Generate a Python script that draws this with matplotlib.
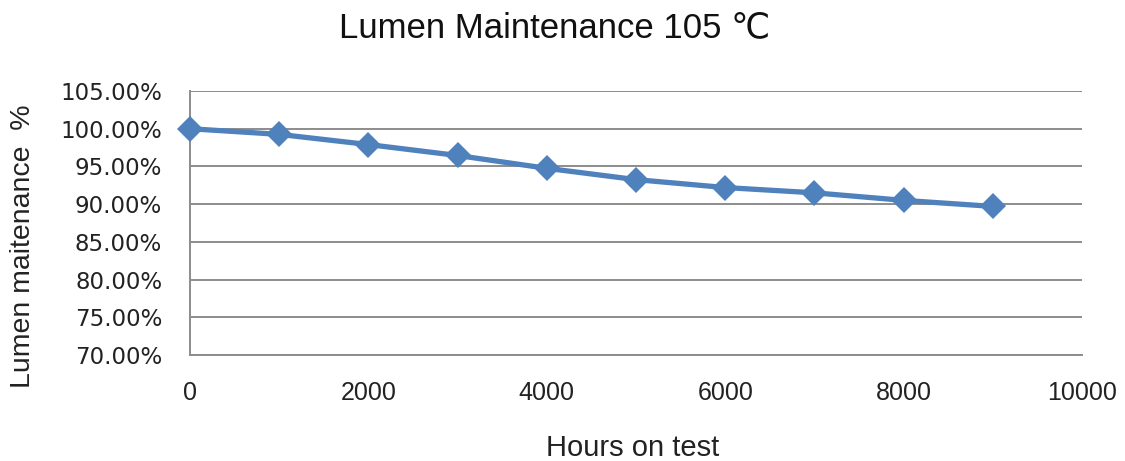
import matplotlib
matplotlib.use("Agg")
import matplotlib.pyplot as plt
from matplotlib.ticker import FuncFormatter

hours = [0, 1000, 2000, 3000, 4000, 5000, 6000, 7000, 8000, 9000]
maintenance = [100.0, 99.25, 97.9, 96.45, 94.75, 93.25, 92.2, 91.5, 90.5, 89.7]
x_ticks = [0, 2000, 4000, 6000, 8000, 10000]
y_ticks = [70, 75, 80, 85, 90, 95, 100, 105]

W, H = 1125, 461
fig = plt.figure(figsize=(W / 100, H / 100), dpi=100)
ax = fig.add_axes([190 / W, 1 - 355 / H, (1082 - 190) / W, (355 - 91) / H])

ax.plot(hours, maintenance, color="#4F81BD", lw=3.8, marker="D",
        markersize=13.5, markeredgewidth=0, solid_capstyle="round", zorder=3,
        clip_on=False)

ax.set_xlim(0, 10000)
ax.set_ylim(70, 105)
ax.set_xticks(x_ticks)
ax.set_yticks(y_ticks)
ax.yaxis.set_major_formatter(FuncFormatter(lambda v, p: f"{v:.2f}%"))
ax.grid(axis="y", color="#8C8C8C", lw=1.4, zorder=0)
ax.set_axisbelow(True)
for s in ["top", "right"]:
    ax.spines[s].set_visible(False)
for s in ["left", "bottom"]:
    ax.spines[s].set_color("#8C8C8C")
    ax.spines[s].set_linewidth(1.4)
ax.tick_params(axis="both", length=0)
ax.tick_params(axis="y", pad=20)
ax.tick_params(axis="x", pad=19)
for lab in ax.get_yticklabels():
    lab.set_fontfamily("DejaVu Sans")
    lab.set_fontsize(16.5)
    lab.set_color("#222222")
for lab in ax.get_xticklabels():
    lab.set_fontfamily("Liberation Sans")
    lab.set_fontsize(18)
    lab.set_color("#222222")

fig.text(633 / W, 1 - 456 / H, "Hours on test", ha="center", va="baseline",
         fontsize=21, family="Liberation Sans", color="#222222")
fig.text(23 / W, 1 - 246 / H, "Lumen maitenance  %", ha="center", va="center",
         rotation=90, fontsize=20.5, family="Liberation Sans", color="#222222")
fig.text(555 / W, 1 - 37 / H, "Lumen Maintenance 105 ℃", ha="center",
         va="baseline", fontsize=25, family=["Liberation Sans", "DejaVu Sans"],
         color="#111111")

fig.savefig("out.png", dpi=100)
